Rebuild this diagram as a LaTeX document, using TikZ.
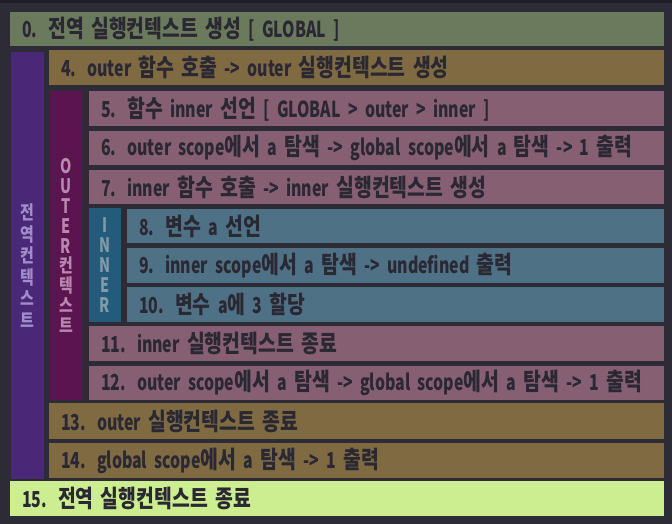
\documentclass[tikz,border=0pt]{standalone}
\usepackage{fontspec}
\setmainfont{Noto Sans CJK KR}[FakeStretch=0.72]
\newfontfamily\kr{Noto Sans CJK KR}[FakeStretch=0.8, Scale=1.1]
\newcommand\K[1]{{\kr #1}}
\definecolor{bg}{HTML}{2C2B36}
\definecolor{topstrip}{HTML}{1E1E26}
\definecolor{txt}{HTML}{2A2833}
\definecolor{cgreen}{HTML}{6B7A5C}
\definecolor{cpurple}{HTML}{4A2878}
\definecolor{cbrown}{HTML}{7F6A42}
\definecolor{couter}{HTML}{5C1450}
\definecolor{cmauve}{HTML}{865F72}
\definecolor{cinner}{HTML}{245A7A}
\definecolor{cblue}{HTML}{4F7186}
\definecolor{clight}{HTML}{CCEE90}
\definecolor{tpurple}{HTML}{A08CC8}
\definecolor{touter}{HTML}{B588AC}
\definecolor{tinner}{HTML}{8299AA}
\begin{document}
\begin{tikzpicture}[x=1pt,y=-1pt,
  rowbox/.style={anchor=north west, inner xsep=12pt, inner ysep=0pt, align=left,
    text=txt, font=\fontsize{22}{24}\selectfont\bfseries},
  vbar/.style={inner sep=0pt, align=center, font=\fontsize{20}{20}\selectfont\bfseries},
  vk/.style={font=\fontsize{17}{21.5}\selectfont\bfseries}]
\useasboundingbox (0,0) rectangle (672,524);
\fill[bg] (0,0) rectangle (672,524);
\fill[topstrip] (0,0) rectangle (672,3);
% row 0
\node[rowbox, fill=cgreen, minimum width=654pt, text width=630pt, minimum height=33.5pt] (r0) at (10,12) {0. \K{전역 실행컨텍스트 생성} [ GLOBAL ]};
% global bar
\node[vbar, vk, fill=cpurple, minimum width=33pt, minimum height=427pt, text=tpurple] (gbar) at (27.5,265.5) {\K{전}\\\K{역}\\\K{컨}\\\K{텍}\\\K{스}\\\K{트}};
% row 4
\node[rowbox, fill=cbrown, minimum width=615pt, text width=591pt, minimum height=35pt] (r4) at (49,50) {4. outer \K{함수 호출} -> outer \K{실행컨텍스트 생성}};
% outer bar
\node[vbar, fill=couter, minimum width=32pt, minimum height=309pt, text=touter] (obar) at (66,245.5) {O\\U\\T\\E\\R\\[-1pt]{\fontsize{17}{20}\selectfont\K{컨}}\\{\fontsize{17}{20}\selectfont\K{텍}}\\{\fontsize{17}{20}\selectfont\K{스}}\\{\fontsize{17}{20}\selectfont\K{트}}};
% rows 5-7
\node[rowbox, fill=cmauve, minimum width=575pt, text width=551pt, minimum height=35pt] (r5) at (89,91) {5. \K{함수} inner \K{선언} [ GLOBAL > outer > inner ]};
\node[rowbox, fill=cmauve, minimum width=575pt, text width=551pt, minimum height=34pt] (r6) at (89,131) {6. outer scope\K{에서} a \K{탐색} -> global scope\K{에서} a \K{탐색} -> 1 \K{출력}};
\node[rowbox, fill=cmauve, minimum width=575pt, text width=551pt, minimum height=34pt] (r7) at (89,170) {7. inner \K{함수 호출} -> inner \K{실행컨텍스트 생성}};
% inner bar
\node[vbar, fill=cinner, minimum width=32pt, minimum height=114pt, text=tinner] (ibar) at (105,265) {I\\N\\N\\E\\R};
% rows 8-10
\node[rowbox, fill=cblue, minimum width=537pt, text width=513pt, minimum height=34pt] (r8) at (127,209) {8. \K{변수} a \K{선언}};
\node[rowbox, fill=cblue, minimum width=537pt, text width=513pt, minimum height=35pt] (r9) at (127,248) {9. inner scope\K{에서} a \K{탐색} -> undefined \K{출력}};
\node[rowbox, fill=cblue, minimum width=537pt, text width=513pt, minimum height=35pt] (r10) at (127,287) {10. \K{변수} a\K{에} 3 \K{할당}};
% rows 11-12
\node[rowbox, fill=cmauve, minimum width=575pt, text width=551pt, minimum height=35pt] (r11) at (89,326) {11. inner \K{실행컨텍스트 종료}};
\node[rowbox, fill=cmauve, minimum width=575pt, text width=551pt, minimum height=34pt] (r12) at (89,366) {12. outer scope\K{에서} a \K{탐색} -> global scope\K{에서} a \K{탐색} -> 1 \K{출력}};
% rows 13-14
\node[rowbox, fill=cbrown, minimum width=615pt, text width=591pt, minimum height=36pt] (r13) at (49,403) {13. outer \K{실행컨텍스트 종료}};
\node[rowbox, fill=cbrown, minimum width=615pt, text width=591pt, minimum height=35pt] (r14) at (49,443) {14. global scope\K{에서} a \K{탐색} -> 1 \K{출력}};
% row 15
\node[rowbox, fill=clight, minimum width=654pt, text width=630pt, minimum height=35pt] (r15) at (10,481) {15. \K{전역 실행컨텍스트 종료}};
\end{tikzpicture}
\end{document}
